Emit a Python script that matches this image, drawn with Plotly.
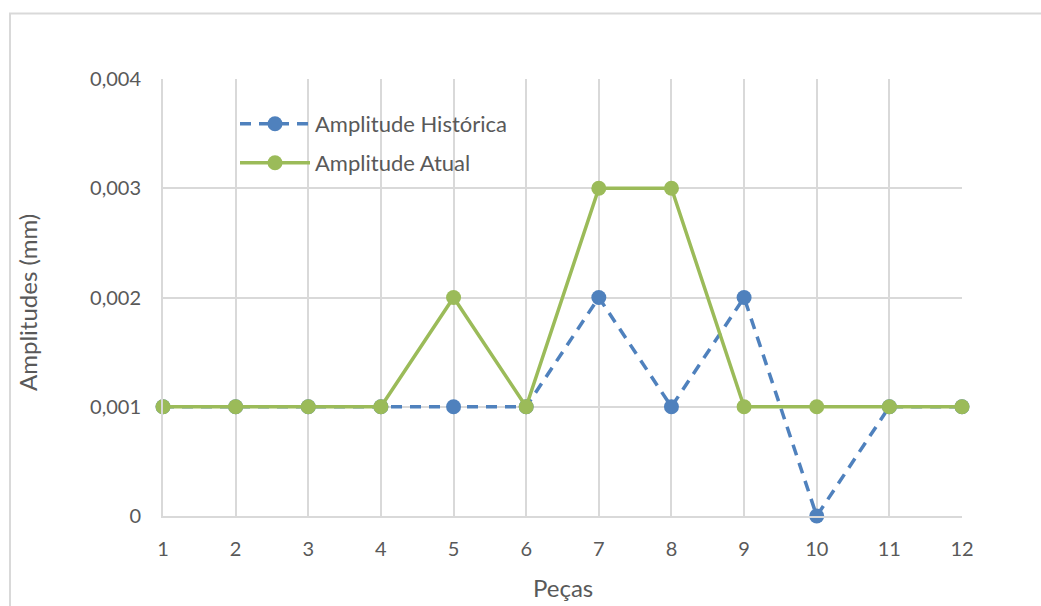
import plotly.graph_objects as go

# Peças (pieces) and measured amplitudes in mm
pecas = [1, 2, 3, 4, 5, 6, 7, 8, 9, 10, 11, 12]
amp_historica = [0.001, 0.001, 0.001, 0.001, 0.001, 0.001, 0.002, 0.001, 0.002, 0.0, 0.001, 0.001]
amp_atual = [0.001, 0.001, 0.001, 0.001, 0.002, 0.001, 0.003, 0.003, 0.001, 0.001, 0.001, 0.001]

y_ticks = [0, 0.001, 0.002, 0.003, 0.004]
y_tick_labels = ["0", "0,001", "0,002", "0,003", "0,004"]

BLUE = "#4F81BD"
GREEN = "#9BBB59"
GRID = "#D9D9D9"
TEXT = "#595959"
FONT = "Lato"

W, H = 1041, 606
L, R, T, B = 163, 79, 79, 90
pw, ph = W - L - R, H - T - B


def px_to_paper_x(px):
    return (px - L) / pw


def px_to_paper_y(py):
    return (H - B - py) / ph


fig = go.Figure()

fig.add_trace(go.Scatter(
    x=pecas, y=amp_historica, name="Amplitude Histórica",
    mode="lines+markers", cliponaxis=False,
    line=dict(color=BLUE, width=3.5, dash="11px,8px"),
    marker=dict(color=BLUE, size=15),
    legend="legend",
))
fig.add_trace(go.Scatter(
    x=pecas, y=amp_atual, name="Amplitude Atual",
    mode="lines+markers", cliponaxis=False,
    line=dict(color=GREEN, width=3.5),
    marker=dict(color=GREEN, size=15),
    legend="legend2",
))

legend_common = dict(
    bgcolor="rgba(0,0,0,0)",
    font=dict(family=FONT, size=22, color=TEXT),
    itemwidth=70,
    xanchor="left", yanchor="middle",
    borderwidth=0,
)

fig.update_layout(
    width=W, height=H,
    margin=dict(l=L, r=R, t=T, b=B),
    paper_bgcolor="white", plot_bgcolor="white",
    font=dict(family=FONT, color=TEXT),
    showlegend=True,
    legend=dict(x=px_to_paper_x(235), y=px_to_paper_y(124), **legend_common),
    legend2=dict(x=px_to_paper_x(235), y=px_to_paper_y(163), **legend_common),
    xaxis=dict(
        range=[1, 12], tickmode="array", tickvals=pecas,
        ticktext=[str(p) for p in pecas],
        showgrid=True, gridcolor=GRID, gridwidth=2,
        showline=True, linecolor=GRID, linewidth=2,
        zeroline=False, ticks="", ticklabelstandoff=14, automargin=False,
        tickfont=dict(family=FONT, size=20, color=TEXT),
    ),
    yaxis=dict(
        range=[0, 0.004], tickmode="array", tickvals=y_ticks, ticktext=y_tick_labels,
        showgrid=True, gridcolor=GRID, gridwidth=2,
        showline=True, linecolor=GRID, linewidth=2,
        zeroline=False, ticks="", ticklabelstandoff=16, automargin=False,
        tickfont=dict(family=FONT, size=20, color=TEXT),
    ),
    annotations=[
        dict(text="Peças", xref="paper", yref="paper",
             x=px_to_paper_x(563), y=px_to_paper_y(587),
             xanchor="center", yanchor="middle", showarrow=False,
             font=dict(family=FONT, size=24, color=TEXT)),
        dict(text="Amplitudes (mm)", xref="paper", yref="paper",
             x=px_to_paper_x(27), y=px_to_paper_y(303), textangle=-90,
             xanchor="center", yanchor="middle", showarrow=False,
             font=dict(family=FONT, size=24, color=TEXT)),
    ],
)

# Chart area border
fig.add_shape(
    type="rect", xref="paper", yref="paper",
    x0=px_to_paper_x(10), x1=px_to_paper_x(1060),
    y0=px_to_paper_y(640), y1=px_to_paper_y(13.5),
    line=dict(color=GRID, width=2), fillcolor="rgba(0,0,0,0)", layer="below",
)

fig.write_html("out.html")
